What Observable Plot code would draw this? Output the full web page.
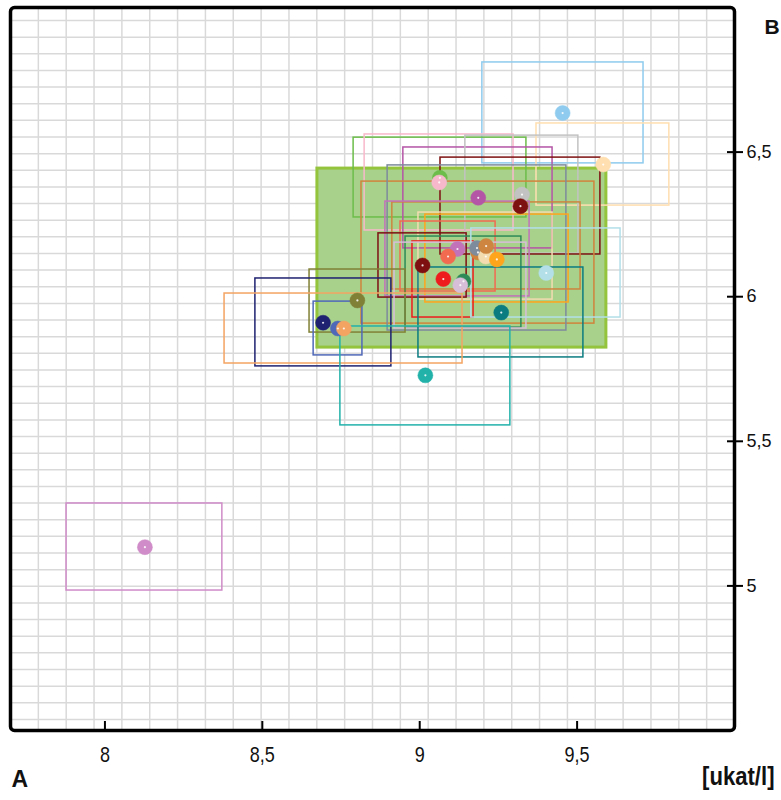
<!DOCTYPE html>
<html>
<head>
<meta charset="utf-8">
<script src="https://cdn.jsdelivr.net/npm/d3@7"></script>
<script src="https://cdn.jsdelivr.net/npm/@observablehq/plot@0.6"></script>
<style>
  html, body { margin: 0; padding: 0; background: #fff; }
  #chart svg { display: block; }
</style>
</head>
<body>
<div id="chart"></div>
<script>
// ---- data ----
const labs   = ["skyblue","navajowhite","green","pink","magenta","silver","darkredA","chocolate","slategray","wheat","orange","peru","orchid","tomato","darkredB","red","seagreen","thistle","lightblue","teal","olive","navy","royalblue","sandybrown","lightseagreen","pinkorchid"];
const colors = ["#8ecbee","#ffdfb0","#6cbd4a","#f8b8cb","#b455a6","#c2c2c2","#7d1010","#d0843c","#7e8b9c","#f3dcb0","#ffa51c","#cd853f","#c272b9","#f26a50","#7e1012","#ee1c1c","#2e8b57","#d6bed8","#b2dfe8","#0b7c80","#808036","#1f2171","#5068b8","#f4a462","#22b2aa","#d08cc8"];
const px     = [9.454,9.583,9.064,9.062,9.186,9.325,9.320,9.185,9.182,9.210,9.245,9.211,9.120,9.090,9.009,9.075,9.139,9.129,9.402,9.259,8.802,8.693,8.740,8.759,9.018,8.127];
const py     = [6.635,6.457,6.411,6.395,6.342,6.353,6.313,6.153,6.168,6.139,6.129,6.175,6.165,6.139,6.108,6.061,6.053,6.040,6.082,5.945,5.987,5.910,5.890,5.890,5.728,5.134];
const xLo    = [9.199,9.371,8.790,8.825,8.948,9.145,9.066,8.815,8.898,8.996,9.018,8.913,8.891,8.939,8.869,8.977,8.955,8.920,9.164,8.996,8.650,8.478,8.663,8.380,8.748,7.878];
const xHi    = [9.711,9.793,9.339,9.298,9.422,9.504,9.574,9.555,9.466,9.422,9.473,9.511,9.349,9.241,9.149,9.171,9.323,9.339,9.638,9.520,8.955,8.910,8.818,9.136,9.288,8.373];
const yLo    = [6.461,6.315,6.274,6.229,6.167,6.149,6.146,5.907,5.883,5.990,5.980,6.025,6.001,6.018,5.997,5.928,5.893,5.890,5.928,5.790,5.876,5.759,5.797,5.769,5.555,4.984];
const yHi    = [6.810,6.599,6.550,6.561,6.516,6.557,6.481,6.398,6.454,6.291,6.284,6.326,6.329,6.260,6.219,6.191,6.208,6.187,6.236,6.101,6.094,6.063,5.983,6.011,5.897,5.285];

// consensus region (green filled box)
const target = [{x1: 8.675, x2: 9.593, y1: 5.824, y2: 6.443}];

// axis ticks
const xTicks = [8, 8.5, 9, 9.5];
const yTicks = [5, 5.5, 6, 6.5];
const xDomain = [7.7, 10.0];
const yDomain = [4.5, 7.0];

// background grid (a fixed paper pattern, not aligned with ticks)
const gridXs = d3.range(1, 26).map(k => xDomain[0] + k * (xDomain[1] - xDomain[0]) / 26);
const gridYs = d3.range(0, 43).map(k => 6.955 - k * 0.05754);

const data = labs.map((n, i) => ({
  name: n, color: colors[i], x: px[i], y: py[i],
  xlo: xLo[i], xhi: xHi[i], ylo: yLo[i], yhi: yHi[i]
}));

const fmt = d => String(d).replace(".", ",");

const chart = Plot.plot({
  width: 781,
  height: 800,
  marginLeft: 10,
  marginRight: 47,
  marginTop: 7,
  marginBottom: 70,
  x: {domain: xDomain},
  y: {domain: yDomain},
  color: {type: "identity"},
  style: {fontFamily: "'Liberation Sans', Arial, sans-serif", background: "#fff"},
  marks: [
    Plot.ruleX(gridXs, {stroke: "#d9d9d9", strokeWidth: 1.5}),
    Plot.ruleY(gridYs, {stroke: "#d9d9d9", strokeWidth: 1.5}),
    Plot.rect(target, {x1: "x1", x2: "x2", y1: "y1", y2: "y2", fill: "#a8d18c", stroke: "#93c43c", strokeWidth: 3}),
    Plot.rect(data, {x1: "xlo", x2: "xhi", y1: "ylo", y2: "yhi", stroke: "color", fill: "none", strokeWidth: 1.5}),
    Plot.dot(data, {x: "x", y: "y", r: 7.5, fill: "color", stroke: "color", strokeOpacity: 0.5, strokeWidth: 1}),
    Plot.dot(data, {x: "x", y: "y", r: 1.1, fill: "white", fillOpacity: 0.85}),
    Plot.frame({stroke: "#000", strokeWidth: 3.5, rx: 4}),
    Plot.ruleX(xTicks, {stroke: "#000", strokeWidth: 2, insetTop: 714}),
    Plot.ruleY(yTicks, {stroke: "#000", strokeWidth: 2, insetLeft: 717}),
    Plot.axisX(xTicks, {anchor: "bottom", tickSize: 0, tickPadding: 16, tickFormat: fmt,
      fontSize: 22, label: null, fill: "#111"}),
    Plot.axisY(yTicks, {anchor: "right", tickSize: 8, strokeWidth: 2, stroke: "#000", tickPadding: 4, tickFormat: fmt,
      fontSize: 18, label: null, fill: "#111"}),
    Plot.text(["A"], {frameAnchor: "bottom-left", dx: 1, dy: 56, textAnchor: "start", fontSize: 23, fontWeight: "bold", fill: "#111"}),
    Plot.text(["[ukat/l]"], {frameAnchor: "bottom-right", dx: 40, dy: 54, textAnchor: "end", fontSize: 26, fontWeight: "bold", fill: "#111"}),
    Plot.text(["B"], {frameAnchor: "top-right", dx: 30, dy: 12, textAnchor: "start", fontSize: 21, fontWeight: "bold", fill: "#111"})
  ]
});

// narrow (condensed) look for the x tick labels and the unit label
const svg = d3.select(chart);
svg.selectAll('g[aria-label="x-axis tick label"] text').each(function () {
  const t = this.getAttribute("transform") || "";
  this.setAttribute("transform", t + " scale(0.82,1)");
});
svg.selectAll("text").filter(function () { return this.textContent === "[ukat/l]"; }).each(function () {
  const t = this.getAttribute("transform") || "";
  this.setAttribute("transform", t + " scale(0.85,1)");
});
document.getElementById("chart").appendChild(chart);
</script>
</body>
</html>
